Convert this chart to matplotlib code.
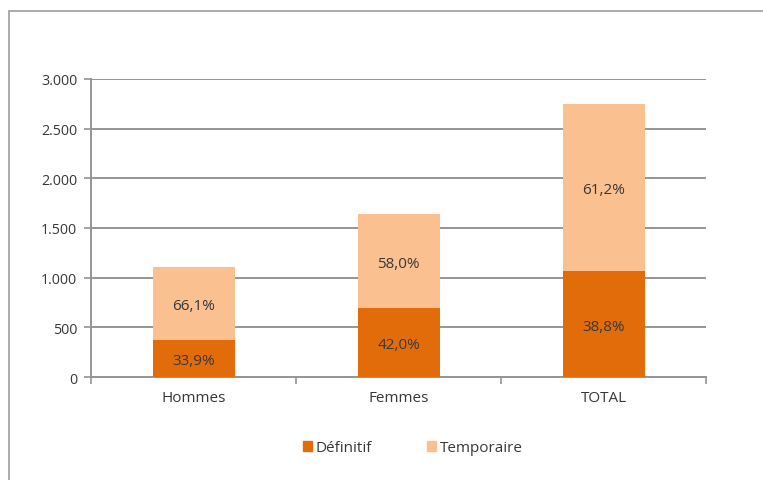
import matplotlib.pyplot as plt
import numpy as np
from matplotlib.patches import Rectangle, Patch
from matplotlib.ticker import FuncFormatter

categories = ["Hommes", "Femmes", "TOTAL"]
definitif = [376, 690, 1066]
temporaire = [732, 952, 1684]
pct_definitif = ["33,9%", "42,0%", "38,8%"]
pct_temporaire = ["66,1%", "58,0%", "61,2%"]

dark = "#E36C0A"
light = "#FAC090"
txt = "#383838"
grid = "#959595"

plt.rcParams['font.family'] = ['Open Sans', 'DejaVu Sans']

fig = plt.figure(figsize=(7.63, 4.81), dpi=100)
W, H = 763, 481

# outer chart frame (runs off the right and bottom edge)
fig.patches.append(Rectangle((9 / W, -0.1), 1.2, 1 - 12 / H + 0.1, transform=fig.transFigure,
                             fill=False, edgecolor="#A6A6A6", linewidth=1.3))

ax = fig.add_axes([91 / W, 1 - 378 / H, (706 - 91) / W, (378 - 80) / H])
x = np.arange(len(categories))
ax.bar(x, definitif, width=0.4, color=dark, zorder=3)
ax.bar(x, temporaire, width=0.4, bottom=definitif, color=light, zorder=3)

for i in range(len(categories)):
    ax.text(x[i], definitif[i] / 2, pct_definitif[i], ha="center", va="center_baseline",
            fontsize=11, color=txt, zorder=4)
    ax.text(x[i], definitif[i] + temporaire[i] / 2, pct_temporaire[i], ha="center",
            va="center_baseline", fontsize=11, color=txt, zorder=4)

ax.set_xlim(-0.5, 2.5)
ax.set_ylim(0, 3000)
ax.set_yticks(range(0, 3001, 500))
ax.yaxis.set_major_formatter(FuncFormatter(lambda v, p: f"{int(v):,}".replace(",", ".")))
ax.yaxis.grid(True, color=grid, linewidth=1.4, zorder=0)
ax.set_xticks(x)
ax.set_xticklabels(categories)
ax.set_xticks([-0.5, 0.5, 1.5, 2.5], minor=True)
ax.tick_params(axis="x", which="major", length=0, pad=9, labelsize=11, labelcolor=txt)
ax.tick_params(axis="x", which="minor", length=5, color=grid, width=1.2)
ax.tick_params(axis="y", length=5, color=grid, width=1.2, labelsize=10.3, labelcolor=txt, pad=5)

for s in ["top", "right"]:
    ax.spines[s].set_visible(False)
ax.spines["left"].set_color(grid)
ax.spines["left"].set_linewidth(1.4)
ax.spines["bottom"].set_color(grid)
ax.spines["bottom"].set_linewidth(1.4)

handles = [Patch(color=dark, label="Définitif"), Patch(color=light, label="Temporaire")]
fig.legend(handles=handles, loc="center", bbox_to_anchor=(413 / W, 1 - 449 / H), ncol=2,
           frameon=False, fontsize=11, handlelength=0.6, handleheight=0.6,
           handletextpad=0.25, columnspacing=3.6, labelcolor=txt)

fig.savefig("out.png", dpi=100)
